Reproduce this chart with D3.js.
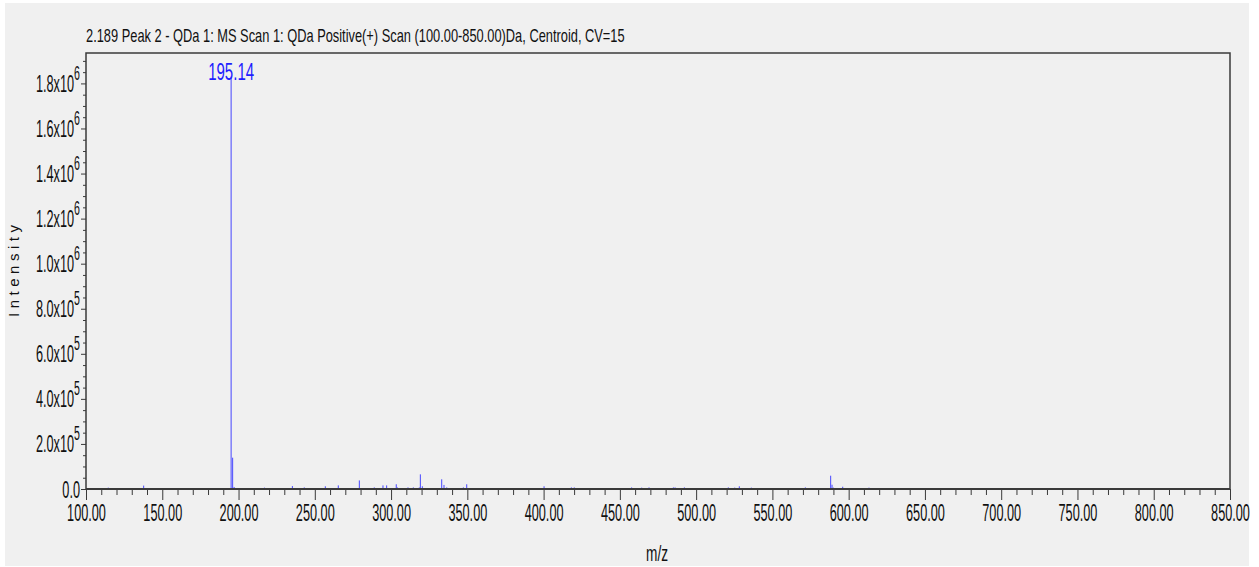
<!DOCTYPE html>
<html>
<head>
<meta charset="utf-8">
<script src="https://cdn.jsdelivr.net/npm/d3@7"></script>
<style>
  html, body { margin: 0; padding: 0; background: #ffffff; }
  svg { display: block; }
  text { font-family: "Liberation Sans", Arial, sans-serif; }
</style>
</head>
<body>
<svg id="chart" width="1259" height="567"></svg>
<script>
// Centroid mass spectrum: m/z and intensity of each stick
const mzValues = [114.6, 137.8, 195.14, 196.14, 197.1, 217.0, 235.3, 243.1, 256.9, 265.4,
  279.2, 289.0, 294.7, 297.1, 303.4, 304.1, 311.1, 314.6, 318.5, 319.2,
  320.5, 333.2, 334.7, 336.5, 347.4, 349.6, 400.3, 418.2, 420.1, 457.7,
  464.3, 469.1, 485.1, 486.2, 492.3, 521.1, 525.3, 528.3, 536.2, 571.6,
  588.2, 589.1, 590.0, 596.1, 613.3, 659.4];
const intensities = [6e3, 1.5e4, 1.83e6, 1.39e5, 9e3, 6e3, 1.3e4, 7e3, 1.2e4, 1.6e4,
  3.8e4, 7e3, 1.6e4, 1.6e4, 2.1e4, 7e3, 7e3, 7e3, 7e3, 6.5e4,
  1.2e4, 4.3e4, 1.8e4, 7e3, 7e3, 2.1e4, 1.2e4, 7e3, 7e3, 7e3,
  6e3, 7e3, 7e3, 7e3, 7e3, 7e3, 6e3, 1.2e4, 6e3, 7e3,
  5.9e4, 1.9e4, 6e3, 1e4, 6e3, 3e3];

// Axis ticks
const xMajorTicks = [100, 150, 200, 250, 300, 350, 400, 450, 500, 550, 600, 650, 700, 750, 800, 850];
const xMinorStep = 10;
const yMajorTicks = [0, 2e5, 4e5, 6e5, 8e5, 1e6, 1.2e6, 1.4e6, 1.6e6, 1.8e6];
const yTickMantissas = ["0.0", "2.0", "4.0", "6.0", "8.0", "1.0", "1.2", "1.4", "1.6", "1.8"];
const yTickExponents = ["", "5", "5", "5", "5", "6", "6", "6", "6", "6"];
const yMinorStep = 5e4;

const titleText = "2.189 Peak 2 - QDa 1: MS Scan 1: QDa Positive(+) Scan (100.00-850.00)Da, Centroid, CV=15";
const xAxisTitle = "m/z";
const yAxisTitle = "Intensity";

const plot = { left: 86, right: 1230, top: 53, bottom: 489 };
const xDomain = [100, 850];
const yDomain = [0, 1.935e6];

const svg = d3.select("#chart");

// panel background
svg.append("rect").attr("x", 5).attr("y", 3).attr("width", 1244).attr("height", 563)
  .attr("fill", "#f0f0f0");

const x = d3.scaleLinear().domain(xDomain).range([plot.left, plot.right]);
const y = d3.scaleLinear().domain(yDomain).range([plot.bottom, plot.top]);

const axisColor = "#3a3a3a";

// squeeze a text element horizontally so that it spans the given width
function fitWidth(sel, tx, ty, width) {
  const w = sel.node().getComputedTextLength();
  sel.attr("transform", `translate(${tx},${ty}) scale(${width / w},1)`);
}

// minor x ticks
const xMinor = d3.range(xDomain[0], xDomain[1] + 0.001, xMinorStep).filter(v => v % 50 !== 0);
svg.append("g").attr("transform", `translate(0,${plot.bottom})`)
  .call(d3.axisBottom(x).tickValues(xMinor).tickSize(6).tickFormat(""))
  .call(g => g.select(".domain").remove())
  .call(g => g.selectAll("line").attr("stroke", axisColor));

// major x ticks with labels
svg.append("g").attr("transform", `translate(0,${plot.bottom})`)
  .call(d3.axisBottom(x).tickValues(xMajorTicks).tickSize(11).tickPadding(4)
    .tickFormat(d => d3.format(".2f")(d)))
  .call(g => g.select(".domain").remove())
  .call(g => g.selectAll("line").attr("stroke", axisColor))
  .call(g => g.selectAll("text")
    .attr("fill", "#111").attr("font-size", 24)
    .attr("font-family", "Liberation Sans, Arial, sans-serif")
    .attr("transform", "scale(0.53,1)"));

// minor y ticks
const yMinor = d3.range(0, yDomain[1], yMinorStep).filter(v => Math.round(v / yMinorStep) % 4 !== 0);
svg.append("g").attr("transform", `translate(${plot.left},0)`)
  .call(d3.axisLeft(y).tickValues(yMinor).tickSize(3).tickFormat(""))
  .call(g => g.select(".domain").remove())
  .call(g => g.selectAll("line").attr("stroke", axisColor));

// major y ticks
svg.append("g").attr("transform", `translate(${plot.left},0)`)
  .call(d3.axisLeft(y).tickValues(yMajorTicks).tickSize(5).tickFormat(""))
  .call(g => g.select(".domain").remove())
  .call(g => g.selectAll("line").attr("stroke", axisColor));

// y tick labels in scientific notation
const yLabels = svg.append("g");
yMajorTicks.forEach((v, i) => {
  const t = yLabels.append("text")
    .attr("transform", `translate(80,${y(v) + 8.5}) scale(0.53,1)`)
    .attr("text-anchor", "end")
    .attr("fill", "#111")
    .attr("font-size", 24);
  if (yTickExponents[i]) {
    t.append("tspan").text(yTickMantissas[i] + "x10");
    t.append("tspan").attr("font-size", 20).attr("dy", -12).text(yTickExponents[i]);
  } else {
    t.append("tspan").text(yTickMantissas[i]);
  }
});

// spectrum sticks
const peaks = mzValues.map((m, i) => ({ mz: m, intensity: intensities[i] }));
svg.append("g").selectAll("line").data(peaks).join("line")
  .attr("x1", d => x(d.mz)).attr("x2", d => x(d.mz))
  .attr("y1", y(0)).attr("y2", d => y(d.intensity))
  .attr("stroke", "#4646ff").attr("stroke-width", 1);

// plot frame
svg.append("path")
  .attr("d", `M${plot.left},${plot.bottom}V${plot.top}H${plot.right}V${plot.bottom}`)
  .attr("fill", "none").attr("stroke", axisColor).attr("stroke-width", 1.5);
svg.append("line")
  .attr("x1", plot.left).attr("x2", plot.right)
  .attr("y1", plot.bottom).attr("y2", plot.bottom)
  .attr("stroke", axisColor).attr("stroke-width", 2);

// base peak annotation
const basePeak = peaks.reduce((a, b) => (b.intensity > a.intensity ? b : a));
const peakLabel = svg.append("text")
  .attr("text-anchor", "middle")
  .attr("fill", "#1e1eff")
  .attr("font-size", 24)
  .text(basePeak.mz.toFixed(2));
fitWidth(peakLabel, x(basePeak.mz), 80, 46);

// title
const title = svg.append("text")
  .attr("fill", "#111").attr("font-size", 18)
  .text(titleText);
fitWidth(title, plot.left, 42, 539);

// axis titles
svg.append("text")
  .attr("transform", `translate(657,561) scale(0.62,1)`)
  .attr("text-anchor", "middle")
  .attr("fill", "#111").attr("font-size", 22)
  .text(xAxisTitle);

svg.append("text")
  .attr("transform", "translate(19,271) rotate(-90)")
  .attr("text-anchor", "middle")
  .attr("fill", "#111").attr("font-size", 15)
  .attr("textLength", 92).attr("lengthAdjust", "spacing")
  .text(yAxisTitle);
</script>
</body>
</html>
